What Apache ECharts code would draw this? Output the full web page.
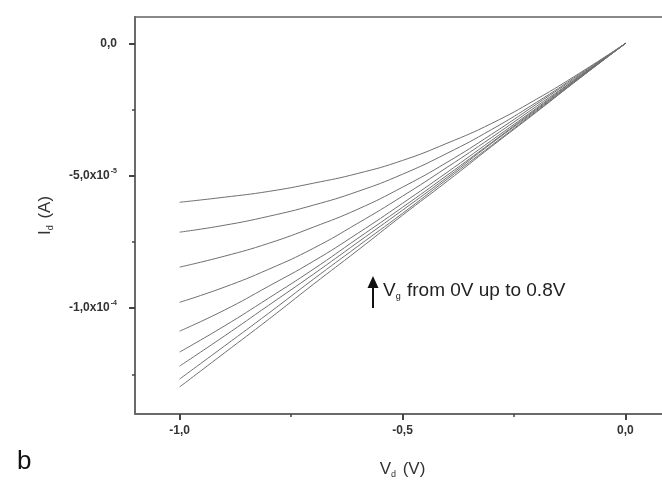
<!DOCTYPE html>
<html><head><meta charset="utf-8">
<script src="https://cdn.jsdelivr.net/npm/echarts@6/dist/echarts.min.js"></script>
<style>html,body{margin:0;padding:0;background:#fff;overflow:hidden}#c{width:685px;height:487px}</style>
</head><body><div id="c"></div>
<script>
// Drain voltage (V)
const vd = [-1.0, -0.9, -0.8, -0.7, -0.6, -0.5, -0.4, -0.3, -0.2, -0.1, 0.0];
// Drain current in microamps, one curve per gate voltage (top curve first)
const id1 = [-60.0, -58.1, -55.9, -52.8, -49.1, -44.2, -37.7, -30.2, -21.1, -10.9, 0];
const id2 = [-71.3, -68.7, -65.3, -61.1, -55.9, -49.4, -41.5, -32.5, -22.3, -11.3, 0];
const id3 = [-84.5, -80.4, -75.5, -69.4, -62.6, -54.3, -44.9, -34.3, -23.0, -11.7, 0];
const id4 = [-97.8, -92.1, -85.3, -77.4, -67.9, -57.7, -46.8, -35.5, -23.8, -12.1, 0];
const id5 = [-108.7, -100.8, -91.7, -82.3, -71.7, -60.4, -48.7, -36.6, -24.5, -12.1, 0];
const id6 = [-116.6, -106.8, -96.2, -85.3, -73.6, -61.9, -49.8, -37.4, -24.9, -12.5, 0];
const id7 = [-121.9, -110.6, -98.9, -87.2, -75.1, -63.0, -50.6, -37.7, -25.3, -12.5, 0];
const id8 = [-126.8, -114.4, -101.9, -89.1, -76.6, -64.2, -51.3, -38.5, -25.7, -12.8, 0];
const id9 = [-129.8, -117.0, -104.2, -91.0, -78.1, -64.9, -52.1, -38.9, -26.0, -12.8, 0];
const curves = [id1, id2, id3, id4, id5, id6, id7, id8, id9];
// Tick labels
const xMajorTicks = [-1.0, -0.5, 0.0];
const xMinorTicks = [-0.75, -0.25];
const yMajorTicks = [0, -5e-5, -1e-4];
const yMinorTicks = [-2.5e-5, -7.5e-5, -1.25e-4];
const yTickText = {'0': '0,0', '-0.00005': '-5,0x10{sup|-5}', '-0.0001': '-1,0x10{sup|-4}'};
const xTickText = {'-1': '-1,0', '-0.5': '-0,5', '0': '0,0'};

const FONT = 'Liberation Sans, Arial, sans-serif';
const axisCol = '#6a6a6a';
const X_MIN = -1.1, X_MAX = 0.1, Y_MIN = -1.4e-4, Y_MAX = 1e-5;
const chart = echarts.init(document.getElementById('c'));

const series = curves.map(c => ({
  type: 'line', xAxisIndex: 0, yAxisIndex: 0, smooth: true, symbol: 'none',
  lineStyle: {color: '#707070', width: 1},
  data: vd.map((v, i) => [v, c[i] * 1e-6])
}));

const xBase = {type: 'value', min: X_MIN, max: X_MAX, splitLine: {show: false}};
const yBase = {type: 'value', min: Y_MIN, max: Y_MAX, splitLine: {show: false}};
const tickOnlyX = (vals, len, w) => Object.assign({}, xBase, {
  position: 'bottom', axisLine: {show: false, onZero: false},
  axisTick: {show: true, customValues: vals, length: len, lineStyle: {color: '#444', width: w}},
  axisLabel: {show: false}
});
const tickOnlyY = (vals, len, w) => Object.assign({}, yBase, {
  position: 'left', axisLine: {show: false, onZero: false},
  axisTick: {show: true, customValues: vals, length: len, lineStyle: {color: '#444', width: w}},
  axisLabel: {show: false}
});

chart.setOption({
  animation: false,
  backgroundColor: '#fff',
  grid: {left: 135, right: 15, top: 17, bottom: 73, show: true, borderColor: '#888', borderWidth: 2, backgroundColor: 'transparent'},
  xAxis: [
    Object.assign({}, xBase, {
      position: 'bottom',
      axisLine: {onZero: false, lineStyle: {color: axisCol, width: 2}},
      axisTick: {show: false},
      axisLabel: {customValues: xMajorTicks, margin: 11, fontFamily: FONT, fontWeight: 'bold', fontSize: 12, color: '#333',
        formatter: v => xTickText[String(Math.round(v * 10) / 10)] || ''},
      name: 'V{sub|d} (V)', nameLocation: 'middle', nameGap: 46,
      nameTextStyle: {fontFamily: FONT, fontSize: 17, color: '#333', rich: {sub: {fontSize: 9, verticalAlign: 'bottom', padding: [10, 2, 0, 0], fontFamily: FONT, color: '#333'}}}
    }),
    tickOnlyX(xMinorTicks, 3, 1.5),
    tickOnlyX(xMajorTicks.map(v => v + 1e-9), 6, 2)
  ],
  yAxis: [
    Object.assign({}, yBase, {
      position: 'left',
      axisLine: {onZero: false, lineStyle: {color: axisCol, width: 2}},
      axisTick: {show: false},
      axisLabel: {customValues: yMajorTicks, margin: 18, fontFamily: FONT, fontWeight: 'bold', fontSize: 12, color: '#333',
        formatter: v => { const k = String(Math.round(v * 1e6) / 1e6); return yTickText[k] || ''; },
        rich: {sup: {fontSize: 7, fontWeight: 'bold', verticalAlign: 'top', padding: [0, 0, 10, 1], fontFamily: FONT, color: '#333'}}},
      name: 'I{sub|d} (A)', nameLocation: 'middle', nameGap: 80, nameRotate: 90,
      nameTextStyle: {fontFamily: FONT, fontSize: 17, color: '#333', rich: {sub: {fontSize: 9, verticalAlign: 'bottom', padding: [10, 2, 0, 0], fontFamily: FONT, color: '#333'}}}
    }),
    tickOnlyY(yMinorTicks, 3, 1.5),
    tickOnlyY(yMajorTicks.map(v => v + 1e-12), 6, 2)
  ],
  series: series,
  graphic: [
    {type: 'line', shape: {x1: 373, y1: 308, x2: 373, y2: 286}, style: {stroke: '#111', lineWidth: 2}},
    {type: 'polygon', shape: {points: [[367.5, 288], [378.5, 288], [373, 276]]}, style: {fill: '#111'}},
    {type: 'text', left: 383, top: 281, style: {text: 'V{sub|g} from 0V up to 0.8V', fontFamily: FONT, fontSize: 19, fill: '#222',
      rich: {sub: {fontSize: 9, verticalAlign: 'bottom', padding: [12, 1, 0, 0], fontFamily: FONT, fill: '#222'}}}},
    {type: 'text', left: 17, top: 449, style: {text: 'b', fontFamily: FONT, fontSize: 26, fill: '#111'}}
  ]
});
</script></body></html>
